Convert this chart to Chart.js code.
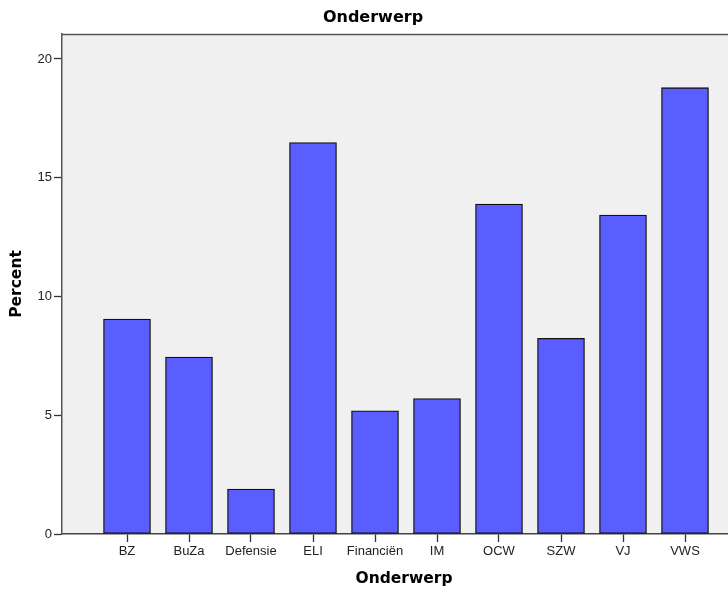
<!DOCTYPE html>
<html>
<head>
<meta charset="utf-8">
<script src="https://cdn.jsdelivr.net/npm/chart.js@4/dist/chart.umd.min.js"></script>
<style>
  html, body { margin: 0; padding: 0; background: #fff; overflow: hidden; width: 728px; height: 592px; }
  canvas { display: block; }
</style>
</head>
<body>
<canvas id="c" width="746" height="592"></canvas>
<script>
const categories = ["BZ", "BuZa", "Defensie", "ELI", "Financiën", "IM", "OCW", "SZW", "VJ", "VWS"];
const percentValues = [9.05, 7.45, 1.89, 16.48, 5.19, 5.70, 13.89, 8.24, 13.43, 18.79];
const yTickValues = [0, 5, 10, 15, 20];
const chartTitle = "Onderwerp";
const xAxisTitle = "Onderwerp";
const yAxisTitle = "Percent";

const plotBg = {
  id: 'plotBg',
  beforeDraw(chart) {
    const { ctx, chartArea: a } = chart;
    ctx.save();
    ctx.fillStyle = '#F0F0F0';
    ctx.fillRect(a.left, a.top, a.right - a.left, a.bottom - a.top);
    ctx.restore();
  },
  afterDraw(chart) {
    const { ctx, chartArea: a } = chart;
    ctx.save();
    ctx.strokeStyle = '#555';
    ctx.lineWidth = 1.5;
    ctx.beginPath();
    ctx.moveTo(a.left, a.top + 0.5);
    ctx.lineTo(a.right, a.top + 0.5);
    ctx.stroke();
    ctx.restore();
  }
};

new Chart(document.getElementById('c'), {
  type: 'bar',
  data: {
    datasets: [{
      data: categories.map((c, i) => ({ x: i, y: percentValues[i] })),
      backgroundColor: 'rgb(91,94,255)',
      borderColor: '#111',
      borderWidth: 1.3,
      borderSkipped: false,
      barThickness: 47
    }]
  },
  options: {
    responsive: false,
    animation: false,
    events: [],
    layout: { padding: 0 },
    plugins: {
      legend: { display: false },
      tooltip: { enabled: false },
      title: {
        display: true,
        text: chartTitle,
        color: '#000',
        font: { family: 'DejaVu Sans', size: 16, weight: 'bold', lineHeight: 1.2 },
        padding: { top: 8, bottom: 6.8 }
      }
    },
    scales: {
      x: {
        type: 'linear',
        offset: false,
        min: -65 / 62,
        max: -65 / 62 + 684 / 62,
        afterBuildTicks: (axis) => { axis.ticks = categories.map((c, i) => ({ value: i })); },
        afterFit: (s) => { s.height = 58; },
        ticks: {
          autoSkip: false,
          maxRotation: 0,
          color: '#222',
          padding: 2,
          font: { family: 'Liberation Sans', size: 13 },
          callback: (v) => categories[v] ?? ''
        },
        grid: { display: true, offset: false, drawOnChartArea: false, drawTicks: true, tickLength: 8, tickColor: '#333', tickWidth: 1.3 },
        border: { display: true, color: '#444', width: 1.5 },
        title: {
          display: true,
          text: xAxisTitle,
          color: '#000',
          font: { family: 'DejaVu Sans', size: 15.5, weight: 'bold', lineHeight: 1.2 },
          padding: { top: 0, bottom: 4 }
        }
      },
      y: {
        min: 0,
        max: 21.05,
        afterBuildTicks: (axis) => { axis.ticks = yTickValues.map(v => ({ value: v })); },
        afterFit: (s) => { s.width = 62; },
        ticks: {
          color: '#222',
          padding: 2,
          font: { family: 'Liberation Sans', size: 13 }
        },
        grid: { display: true, drawOnChartArea: false, drawTicks: true, tickLength: 8, tickColor: '#333', tickWidth: 1.3 },
        border: { display: true, color: '#555', width: 1.5 },
        title: {
          display: true,
          text: yAxisTitle,
          color: '#000',
          font: { family: 'DejaVu Sans', size: 15.5, weight: 'bold', lineHeight: 1.2 },
          padding: { top: 8, bottom: 0 }
        }
      }
    }
  },
  plugins: [plotBg]
});
</script>
</body>
</html>
